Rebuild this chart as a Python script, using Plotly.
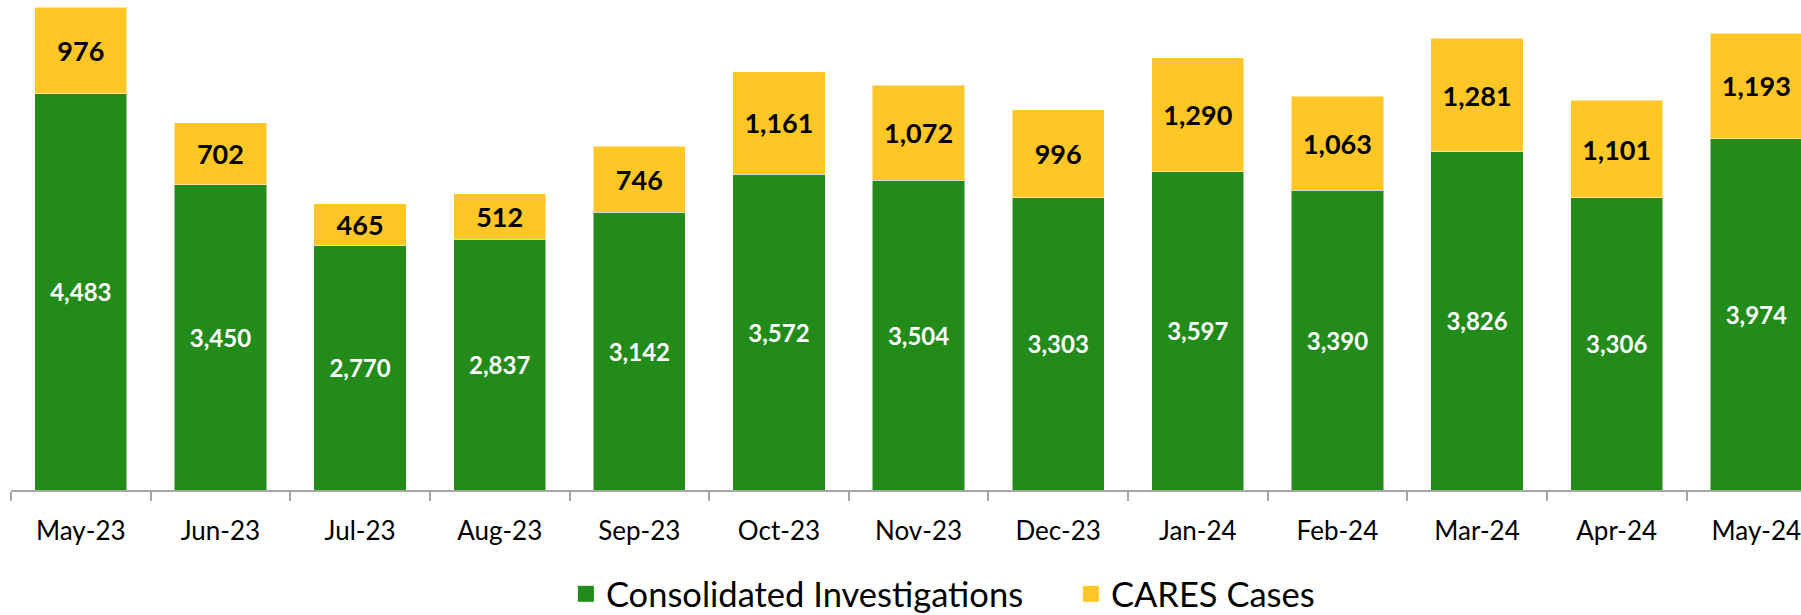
import plotly.graph_objects as go

months = ["May-23", "Jun-23", "Jul-23", "Aug-23", "Sep-23", "Oct-23", "Nov-23",
          "Dec-23", "Jan-24", "Feb-24", "Mar-24", "Apr-24", "May-24"]
consolidated = [4483, 3450, 2770, 2837, 3142, 3572, 3504, 3303, 3597, 3390, 3826, 3306, 3974]
cares = [976, 702, 465, 512, 746, 1161, 1072, 996, 1290, 1063, 1281, 1101, 1193]
series_names = ["Consolidated Investigations", "CARES Cases"]

GREEN = "#228B1A"
YELLOW = "#FFC726"
FONT = "Lato, Carlito, sans-serif"

fig = go.Figure()
fig.add_trace(go.Bar(
    x=months, y=consolidated, name=series_names[0], showlegend=False,
    marker=dict(color=GREEN, line=dict(color="rgba(255,255,255,0.5)", width=1)),
    text=[f"{v:,}" for v in consolidated], textposition="inside",
    insidetextanchor="middle",
    textfont=dict(family=FONT, size=24, color="white", weight="bold"),
))
fig.add_trace(go.Bar(
    x=months, y=cares, name=series_names[1], showlegend=False,
    marker=dict(color=YELLOW, line=dict(color="rgba(255,255,255,0.5)", width=1)),
    text=[f"{v:,}" for v in cares], textposition="inside",
    insidetextanchor="middle",
    textfont=dict(family=FONT, size=27, color="black", weight="bold"),
))
# legend entries with larger square swatches
for nm, col in zip(series_names, [GREEN, YELLOW]):
    fig.add_trace(go.Scatter(
        x=[None], y=[None], mode="markers", name=nm,
        marker=dict(symbol="square", size=22, color=col),
    ))

fig.update_layout(
    barmode="stack",
    bargap=0.34,
    width=1801, height=615,
    margin=dict(l=11, r=0, t=0, b=125, autoexpand=False),
    plot_bgcolor="white", paper_bgcolor="white",
    font=dict(family=FONT, color="black"),
    showlegend=True,
    legend=dict(orientation="h", x=0.31, xanchor="left", y=-0.212, yanchor="middle",
                font=dict(family=FONT, size=34.5, color="black"),
                entrywidth=460,
                itemclick=False, traceorder="normal"),
    xaxis=dict(
        range=[-0.5, 12.32], showline=True, linecolor="#A6A6A6", linewidth=2,
        ticks="outside", tickson="boundaries", ticklen=9, tickcolor="#A6A6A6",
        tickwidth=2, tickfont=dict(family=FONT, size=26, color="black"),
        ticklabelstandoff=17, automargin=False,
        showgrid=False, zeroline=False,
    ),
    yaxis=dict(range=[0, 5542], visible=False, showgrid=False, zeroline=False,
               automargin=False),
)

fig.write_html("out.html",
               config={"displayModeBar": False},
               post_script="document.body.style.margin='0';document.body.style.overflow='hidden';")
